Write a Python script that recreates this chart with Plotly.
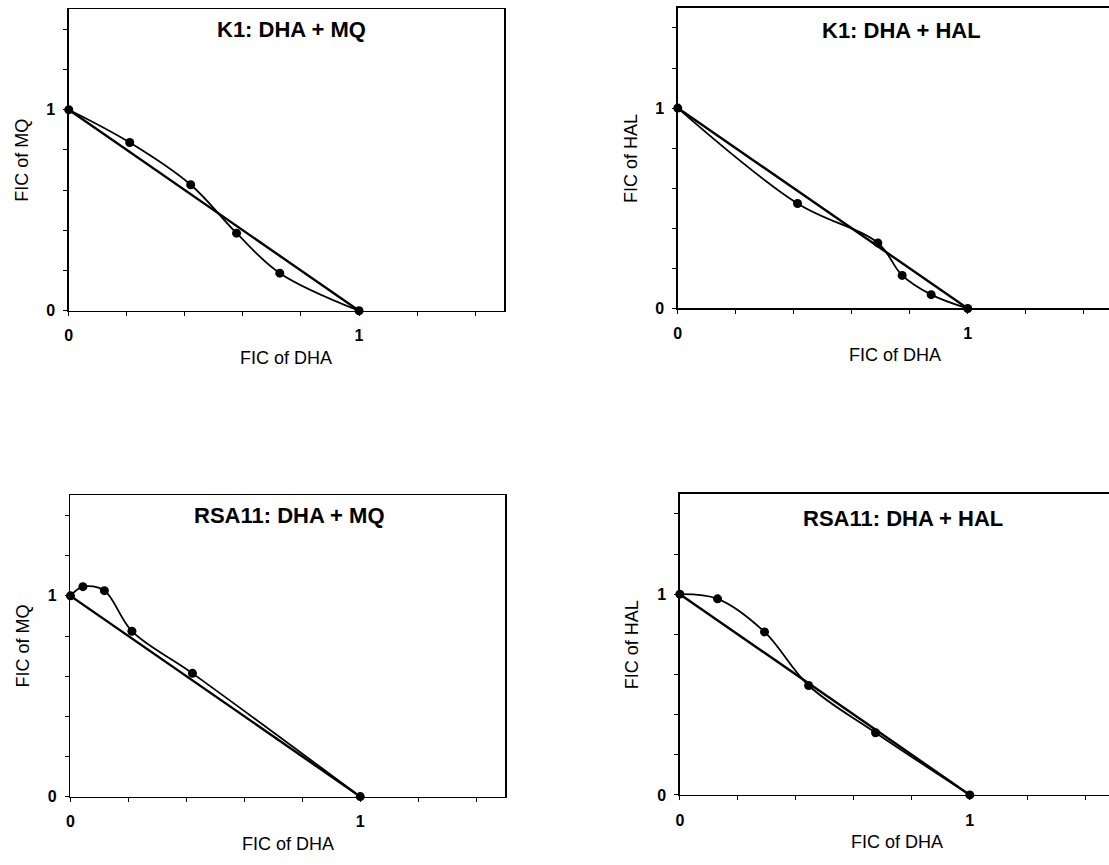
import plotly.graph_objects as go

# ---- data ----
panel_titles = ["K1: DHA + MQ", "K1: DHA + HAL", "RSA11: DHA + MQ", "RSA11: DHA + HAL"]
y_titles = ["FIC of MQ", "FIC of HAL", "FIC of MQ", "FIC of HAL"]
x_title = "FIC of DHA"

k1_mq_x = [0, 0.21, 0.42, 0.578, 0.727, 1.0]
k1_mq_y = [1, 0.837, 0.627, 0.386, 0.187, 0]

k1_hal_x = [0, 0.413, 0.69, 0.774, 0.874, 1.0]
k1_hal_y = [1, 0.524, 0.327, 0.165, 0.069, 0]

rsa_mq_x = [0, 0.043, 0.117, 0.212, 0.421, 1.0]
rsa_mq_y = [1, 1.046, 1.026, 0.824, 0.614, 0]

rsa_hal_x = [0, 0.13, 0.292, 0.444, 0.675, 1.0]
rsa_hal_y = [1, 0.977, 0.812, 0.545, 0.31, 0]

additive_x = [0, 1]
additive_y = [1, 0]

tick_vals = [0, 0.2, 0.4, 0.6, 0.8, 1.0, 1.2, 1.4]
tick_text = ["0", "", "", "", "", "1", "", ""]

series = [(k1_mq_x, k1_mq_y), (k1_hal_x, k1_hal_y), (rsa_mq_x, rsa_mq_y), (rsa_hal_x, rsa_hal_y)]

# ---- layout geometry (paper fractions) ----
W, H = 1109, 865
domains = [
    ([65 / W, 502 / W], [(H - 314) / H, (H - 9.3) / H], 1.5, True),
    ([676.2 / W, 1.0], [(H - 311.7) / H, (H - 8) / H], (W - 676.2) / 291, False),
    ([66.7 / W, 503 / W], [(H - 805) / H, (H - 500.7) / H], 1.5, True),
    ([678.3 / W, 1.0], [(H - 803.3) / H, (H - 499) / H], (W - 678.3) / 291, False),
]
title_pos = [(0.766, 1.397), (0.77, 1.386), (0.756, 1.40), (0.77, 1.375)]

FONT = "Liberation Sans, Arial, sans-serif"
fig = go.Figure()
annotations = []
layout = {}

for i, ((sx, sy), (xd, yd, xmax, full_box)) in enumerate(zip(series, domains)):
    n = "" if i == 0 else str(i + 1)
    xa, ya = "x" + n, "y" + n
    fig.add_trace(go.Scatter(x=additive_x, y=additive_y, mode="lines",
                             line=dict(color="black", width=2.4),
                             xaxis=xa, yaxis=ya, showlegend=False, cliponaxis=False))
    fig.add_trace(go.Scatter(x=sx, y=sy, mode="lines+markers",
                             line=dict(color="black", width=1.8, shape="spline", smoothing=1.0),
                             marker=dict(color="black", size=9),
                             xaxis=xa, yaxis=ya, showlegend=False, cliponaxis=False))
    layout["xaxis" + n] = dict(
        domain=xd, range=[0, xmax], anchor=ya, showgrid=False, zeroline=False,
        showline=True, linecolor="black", linewidth=1.5, mirror=True,
        ticks="outside", ticklen=4, tickwidth=1, tickcolor="black",
        tickvals=tick_vals, ticktext=tick_text, ticklabelstandoff=6,
        tickfont=dict(family=FONT, size=16, color="black", weight="bold"),
    )
    layout["yaxis" + n] = dict(
        domain=yd, range=[0, 1.5], anchor=xa, showgrid=False, zeroline=False,
        showline=True, linecolor="black", linewidth=1.5, mirror=full_box,
        ticks="outside", ticklen=4, tickwidth=1, tickcolor="black",
        tickvals=tick_vals, ticktext=tick_text, ticklabelstandoff=5,
        tickfont=dict(family=FONT, size=16, color="black", weight="bold"),
    )
    tx, ty = title_pos[i]
    annotations.append(dict(text=panel_titles[i], x=tx, y=ty, xref=xa, yref=ya,
                            showarrow=False, xanchor="center", yanchor="middle",
                            font=dict(family=FONT, size=22, color="black", weight="bold")))
    annotations.append(dict(text=x_title, x=0.75, y=0, xref=xa, yref=ya + " domain",
                            showarrow=False, xanchor="center", yanchor="middle", yshift=-47,
                            font=dict(family=FONT, size=18, color="black")))
    annotations.append(dict(text=y_titles[i], x=0, y=0.75, xref=xa + " domain", yref=ya,
                            showarrow=False, xanchor="center", yanchor="middle", xshift=-47,
                            textangle=-90,
                            font=dict(family=FONT, size=18, color="black")))

fig.update_layout(**layout)
fig.update_layout(width=W, height=H, margin=dict(l=0, r=0, t=0, b=0),
                  plot_bgcolor="white", paper_bgcolor="white",
                  hovermode=False, annotations=annotations)
fig.write_html("out.html", config={"displayModeBar": False, "staticPlot": True},
               post_script="document.body.style.margin='0';document.body.style.overflow='hidden';")
